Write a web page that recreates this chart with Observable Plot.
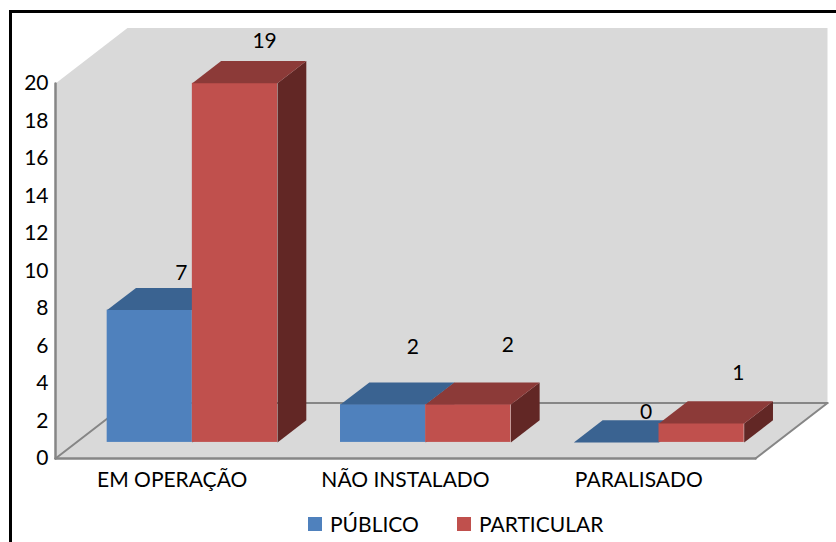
<!DOCTYPE html>
<html>
<head>
<meta charset="utf-8">
<script src="https://cdn.jsdelivr.net/npm/d3@7"></script>
<script src="https://cdn.jsdelivr.net/npm/@observablehq/plot@0.6"></script>
<style>
  html, body { margin: 0; padding: 0; background: #fff; overflow: hidden; }
  #page { position: relative; width: 836px; height: 542px; font-family: Lato, sans-serif; color: #000; }
  #border { position: absolute; left: 9px; top: 10px; right: -10px; bottom: -10px; border: 3px solid #000; pointer-events: none; }
  #legend { position: absolute; top: 505px; left: 0; width: 836px; height: 37px; }
  #legend i { position: absolute; top: 12px; width: 14px; height: 14px; }
  #legend span { position: absolute; top: 6px; font-size: 21px; line-height: 26px; white-space: nowrap; }
</style>
</head>
<body>
<div id="page">
  <div id="chart"></div>
  <div id="legend"></div>
  <div id="border"></div>
</div>
<script>
const categories = ["EM OPERAÇÃO", "NÃO INSTALADO", "PARALISADO"];
const seriesNames = ["PÚBLICO", "PARTICULAR"];
const publico = [7, 2, 0];
const particular = [19, 2, 1];
const yTicks = [0, 2, 4, 6, 8, 10, 12, 14, 16, 18, 20];

const frontColors = ["#4F81BD", "#C0504D"];
const topColors = ["#3A6391", "#8C3A38"];
const sideColors = ["#2F4E73", "#622725"];
const wallColor = "#D9D9D9";
const edgeColor = "#868686";

// oblique projection, in data units: depth 0 = front of floor, depth 1 = back wall
const depthX = 72 / 233.33;
const depthY = 55.5 / 18.75;
const barFront = 0.29, barBack = 0.69, barWidth = 0.365, barStretch = 1.008, barNudge = -0.003;
const P = (x, v, d) => ({x: x + d * depthX, y: v + d * depthY});
const H = v => v * barStretch;

// per-label offsets as placed in the original
const labelDx = [[31, 29, 29], [29, 39, 36]];
const labelDy = [[-37, -57, -30], [-42, -59, -50]];

const poly = (pts, fill) => Plot.line(pts, {x: "x", y: "y", fill, stroke: "none"});
const edge = (pts, strokeWidth = 2) => Plot.line(pts, {x: "x", y: "y", stroke: edgeColor, strokeWidth});

const marks = [
  // walls and floor
  poly([P(0,0,0), P(0,20,0), P(0,20,1), P(3,20,1), P(3,0,1), P(3,0,0)], wallColor),
  edge([P(0,0,1), P(3,0,1)]),
  edge([P(0,0,0), P(0,0,1)]),
  edge([P(3,0,0), P(3,0,1)]),
  edge([P(0,0,0), P(3,0,0)], 2.5),
  edge([P(0,0,0), P(0,20,0)], 2.5)
];

const rows = [publico, particular];
rows.forEach((values, s) => {
  values.forEach((v, i) => {
    const x0 = i + 0.5 + (s - 1) * barWidth + barNudge;
    const x1 = x0 + barWidth;
    const a = P(x0, 0, barFront), b = P(x1, H(v), barFront);
    if (v > 0) {
      marks.push(poly([P(x1,0,barFront), P(x1,H(v),barFront), P(x1,H(v),barBack), P(x1,0,barBack)], sideColors[s]));
      marks.push(Plot.rect([{}], {x1: () => a.x, x2: () => b.x, y1: () => a.y, y2: () => b.y, fill: frontColors[s]}));
    }
    marks.push(poly([P(x0,H(v),barFront), P(x1,H(v),barFront), P(x1,H(v),barBack), P(x0,H(v),barBack)], topColors[s]));
  });
});
rows.forEach((values, s) => {
  values.forEach((v, i) => {
    const x0 = i + 0.5 + (s - 1) * barWidth;
    const p = P(x0 + barWidth / 2, H(v), barFront);
    marks.push(Plot.text([p], {
      x: "x", y: "y", text: () => String(v),
      dx: labelDx[s][i], dy: labelDy[s][i],
      fontSize: 21, fill: "#000"
    }));
  });
});

marks.push(Plot.axisY({
  ticks: yTicks, tickSize: 0, tickPadding: 7, label: null,
  tickFormat: d => String(d), fontSize: 21, fill: "#000"
}));
marks.push(Plot.axisX({
  ticks: [0.5, 1.5, 2.5], tickSize: 0, tickPadding: 14, label: null,
  tickFormat: d => categories[Math.floor(d)], fontSize: 21, fill: "#000"
}));

const chart = Plot.plot({
  width: 836,
  height: 505,
  marginLeft: 55,
  marginRight: 81,
  marginTop: 83,
  marginBottom: 47,
  x: {domain: [0, 3]},
  y: {domain: [0, 20]},
  style: {fontFamily: "Lato, sans-serif", background: "transparent", color: "#000"},
  marks
});
document.getElementById("chart").appendChild(chart);

const legend = document.getElementById("legend");
const swatchX = [308, 457], textX = [330, 479];
seriesNames.forEach((name, s) => {
  const sw = document.createElement("i");
  sw.style.left = swatchX[s] + "px";
  sw.style.background = frontColors[s];
  legend.appendChild(sw);
  const t = document.createElement("span");
  t.style.left = textX[s] + "px";
  t.textContent = name;
  legend.appendChild(t);
});
</script>
</body>
</html>
